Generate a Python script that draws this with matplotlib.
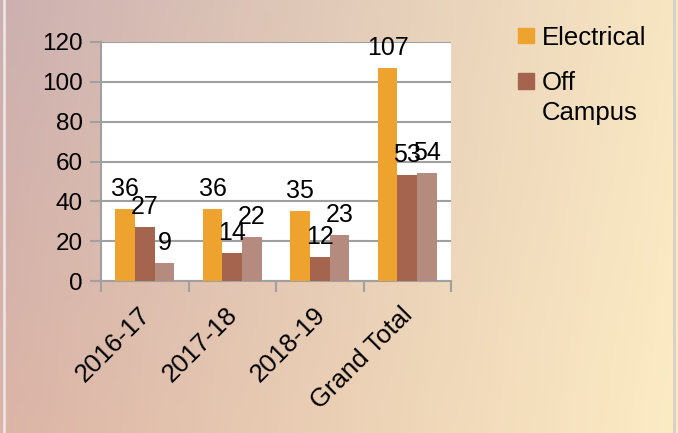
import matplotlib
matplotlib.use("Agg")
import matplotlib.pyplot as plt
import matplotlib.transforms as mtransforms
import numpy as np
from matplotlib.patches import Rectangle
from matplotlib.lines import Line2D

categories = ["2016-17", "2017-18", "2018-19", "Grand Total"]
electrical = [36, 36, 35, 107]
off_campus = [27, 14, 12, 53]
third = [9, 22, 23, 54]

colors = ["#efa32f", "#a4644e", "#b58a7f"]

plt.rcParams['font.family'] = ['Liberation Sans', 'DejaVu Sans']

fig = plt.figure(figsize=(6.78, 4.33), dpi=100)

# gradient background (bilinear between corner colours)
def hex2rgb(h):
    h = h.lstrip('#')
    return np.array([int(h[i:i + 2], 16) for i in (0, 2, 4)]) / 255.0

tl, tr = hex2rgb("#ccb0b0"), hex2rgb("#f8e6c2")
bl, br = hex2rgb("#dbb4a6"), hex2rgb("#fcecc4")
h, w = 100, 200
u = np.linspace(0, 1, w)[None, :, None]
v = np.linspace(0, 1, h)[:, None, None]
top = tl * (1 - u) + tr * u
bot = bl * (1 - u) + br * u
grad = top * (1 - v) + bot * v
bg = fig.add_axes([0, 0, 1, 1], zorder=-10)
bg.imshow(grad, aspect='auto', extent=[0, 1, 0, 1])
bg.axis('off')

# frame edges
fig.add_artist(Line2D([4 / 678, 4 / 678], [0, 1], color="#ece4e4", lw=2, transform=fig.transFigure))
fig.add_artist(Line2D([673.5 / 678, 673.5 / 678], [0, 1], color="#d4d0cc", lw=2, transform=fig.transFigure))

ax = fig.add_axes([101 / 678, 1 - 281 / 433, 350 / 678, 239 / 433])
ax.set_facecolor("white")

x = np.arange(len(categories))
bw = 0.225
series = [electrical, off_campus, third]
for i, vals in enumerate(series):
    pos = x + (i - 1) * bw
    ax.bar(pos, vals, width=bw, color=colors[i], zorder=3)
    for px, val in zip(pos, vals):
        ax.annotate(str(val), (px, val), xytext=(0, 9.5), textcoords="offset points",
                    ha="center", va="baseline", fontsize=18, zorder=4)

ax.set_xlim(-0.5, len(categories) - 0.5)
ax.set_ylim(0, 120)
ax.set_yticks(np.arange(0, 121, 20))
ax.yaxis.grid(True, color="#a0a0a0", lw=1.5, zorder=0)
ax.tick_params(axis='y', length=8, width=1.5, color="#a0a0a0", labelsize=17.5, pad=5)

# ticks at category boundaries, labels at centres
ax.set_xticks(np.arange(-0.5, len(categories)), labels=[""] * (len(categories) + 1))
ax.tick_params(axis='x', which='major', length=8, width=1.5, color="#a0a0a0")
ax.set_xticks(x, minor=True)
ax.set_xticklabels(categories, minor=True, rotation=45, ha="right", rotation_mode="anchor", fontsize=18.5)
ax.tick_params(axis='x', which='minor', length=0, pad=14)
shift = mtransforms.ScaledTranslation(-7 / 100, -2 / 100, fig.dpi_scale_trans)
for lab in ax.get_xticklabels(minor=True):
    lab.set_transform(lab.get_transform() + shift)

for side in ["top", "right"]:
    ax.spines[side].set_visible(False)
for side in ["left", "bottom"]:
    ax.spines[side].set_color("#a0a0a0")
    ax.spines[side].set_linewidth(1.5)

# legend (only two entries shown)
W, H = 678, 433
fig.add_artist(Rectangle((518 / W, 1 - 43 / H), 16 / W, 15 / H, color=colors[0], transform=fig.transFigure))
fig.text(542 / W, 1 - 45 / H, "Electrical", fontsize=18.5, va="baseline")
fig.add_artist(Rectangle((518 / W, 1 - 89 / H), 16 / W, 16 / H, color=colors[1], transform=fig.transFigure))
fig.text(542 / W, 1 - 90 / H, "Off", fontsize=18.5, va="baseline")
fig.text(542 / W, 1 - 120 / H, "Campus", fontsize=18.5, va="baseline")

fig.savefig("out.png", dpi=100)
